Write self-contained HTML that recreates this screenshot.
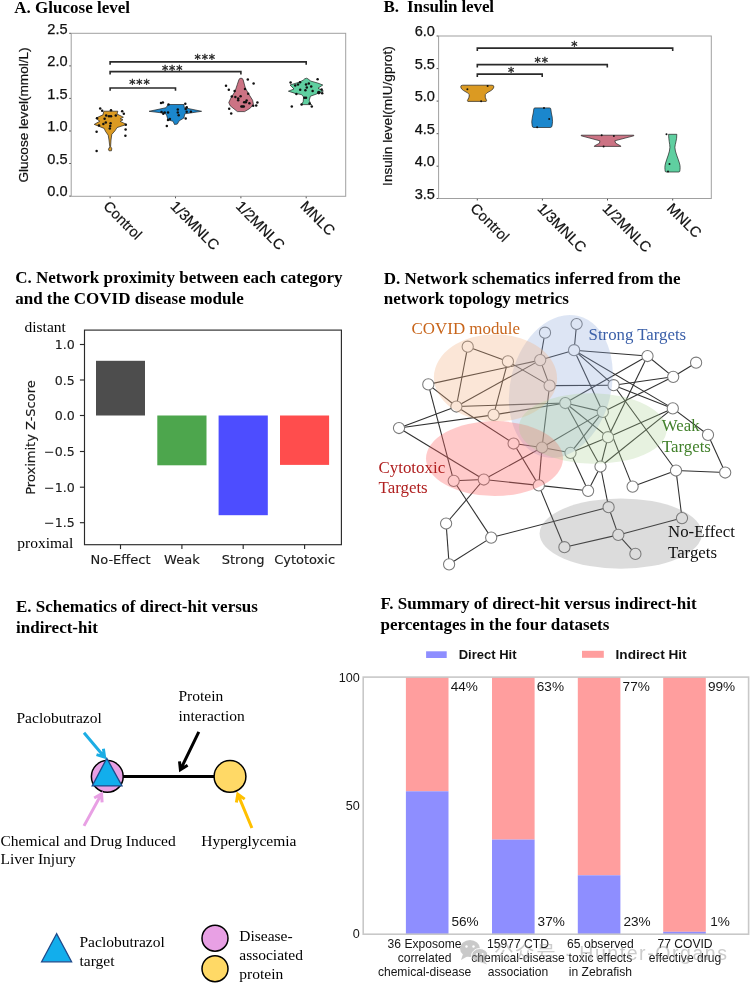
<!DOCTYPE html>
<html lang="en"><head><meta charset="utf-8"><title>Figure</title>
<style>
html,body{margin:0;padding:0;background:#fff;}
body{width:750px;height:983px;overflow:hidden;}
svg{display:block;filter:blur(0.4px);}
</style></head><body>
<svg width="750" height="983" viewBox="0 0 750 983">
<rect width="750" height="983" fill="#fff"/>
<text x="14.3" y="12.5" font-family='"Liberation Serif","DejaVu Serif",serif' font-size="17" font-weight="bold" text-anchor="start" fill="#000" >A. Glucose level</text>
<text x="383.4" y="12" font-family='"Liberation Serif","DejaVu Serif",serif' font-size="17" font-weight="bold" xml:space="preserve" textLength="110.7">B.  Insulin level</text>
<text x="15.2" y="283.4" font-family='"Liberation Serif","DejaVu Serif",serif' font-size="17" font-weight="bold" text-anchor="start" fill="#000" >C. Network proximity between each category</text>
<text x="15.2" y="304.2" font-family='"Liberation Serif","DejaVu Serif",serif' font-size="17" font-weight="bold" text-anchor="start" fill="#000" >and the COVID disease module</text>
<text x="383.8" y="283.6" font-family='"Liberation Serif","DejaVu Serif",serif' font-size="17" font-weight="bold" text-anchor="start" fill="#000" >D. Network schematics inferred from the</text>
<text x="383.8" y="304.4" font-family='"Liberation Serif","DejaVu Serif",serif' font-size="17" font-weight="bold" text-anchor="start" fill="#000" >network topology metrics</text>
<text x="16" y="612.2" font-family='"Liberation Serif","DejaVu Serif",serif' font-size="17" font-weight="bold" text-anchor="start" fill="#000" >E. Schematics of direct-hit versus</text>
<text x="16" y="633" font-family='"Liberation Serif","DejaVu Serif",serif' font-size="17" font-weight="bold" text-anchor="start" fill="#000" >indirect-hit</text>
<text x="380.5" y="609.2" font-family='"Liberation Serif","DejaVu Serif",serif' font-size="17" font-weight="bold" text-anchor="start" fill="#000" >F. Summary of direct-hit versus indirect-hit</text>
<text x="380.5" y="630" font-family='"Liberation Serif","DejaVu Serif",serif' font-size="17" font-weight="bold" text-anchor="start" fill="#000" >percentages in the four datasets</text>
<rect x="71.2" y="33.3" width="274.5" height="163.0" fill="none" stroke="#a0a0a0" stroke-width="1"/>
<line x1="70.9" y1="33.3" x2="69.2" y2="33.3" stroke="#555" stroke-width="1"/>
<text x="67.60000000000001" y="33.5" font-family='"Liberation Sans","DejaVu Sans",sans-serif' font-size="14.6" font-weight="normal" text-anchor="end" fill="#111" stroke="#111" stroke-width="0.25">2.5</text>
<line x1="70.9" y1="65.9" x2="69.2" y2="65.9" stroke="#555" stroke-width="1"/>
<text x="67.60000000000001" y="66.10000000000001" font-family='"Liberation Sans","DejaVu Sans",sans-serif' font-size="14.6" font-weight="normal" text-anchor="end" fill="#111" stroke="#111" stroke-width="0.25">2.0</text>
<line x1="70.9" y1="98.4" x2="69.2" y2="98.4" stroke="#555" stroke-width="1"/>
<text x="67.60000000000001" y="98.60000000000001" font-family='"Liberation Sans","DejaVu Sans",sans-serif' font-size="14.6" font-weight="normal" text-anchor="end" fill="#111" stroke="#111" stroke-width="0.25">1.5</text>
<line x1="70.9" y1="131" x2="69.2" y2="131" stroke="#555" stroke-width="1"/>
<text x="67.60000000000001" y="131.2" font-family='"Liberation Sans","DejaVu Sans",sans-serif' font-size="14.6" font-weight="normal" text-anchor="end" fill="#111" stroke="#111" stroke-width="0.25">1.0</text>
<line x1="70.9" y1="163.5" x2="69.2" y2="163.5" stroke="#555" stroke-width="1"/>
<text x="67.60000000000001" y="163.7" font-family='"Liberation Sans","DejaVu Sans",sans-serif' font-size="14.6" font-weight="normal" text-anchor="end" fill="#111" stroke="#111" stroke-width="0.25">0.5</text>
<line x1="70.9" y1="196.1" x2="69.2" y2="196.1" stroke="#555" stroke-width="1"/>
<text x="67.60000000000001" y="196.29999999999998" font-family='"Liberation Sans","DejaVu Sans",sans-serif' font-size="14.6" font-weight="normal" text-anchor="end" fill="#111" stroke="#111" stroke-width="0.25">0.0</text>
<line x1="110.1" y1="196.60000000000002" x2="110.1" y2="198.3" stroke="#555" stroke-width="1"/>
<text transform="translate(102.39999999999999,207.10000000000002) rotate(45)" font-family='"Liberation Sans","DejaVu Sans",sans-serif' font-size="14.7" font-weight="normal" text-anchor="start" fill="#111" stroke="#111" stroke-width="0.2">Control</text>
<line x1="175.5" y1="196.60000000000002" x2="175.5" y2="198.3" stroke="#555" stroke-width="1"/>
<text transform="translate(169.5,207.10000000000002) rotate(45)" font-family='"Liberation Sans","DejaVu Sans",sans-serif' font-size="14.7" font-weight="normal" text-anchor="start" fill="#111" stroke="#111" stroke-width="0.2">1/3MNLC</text>
<line x1="240.9" y1="196.60000000000002" x2="240.9" y2="198.3" stroke="#555" stroke-width="1"/>
<text transform="translate(234.9,207.10000000000002) rotate(45)" font-family='"Liberation Sans","DejaVu Sans",sans-serif' font-size="14.7" font-weight="normal" text-anchor="start" fill="#111" stroke="#111" stroke-width="0.2">1/2MNLC</text>
<line x1="306.2" y1="196.60000000000002" x2="306.2" y2="198.3" stroke="#555" stroke-width="1"/>
<text transform="translate(299.5,207.10000000000002) rotate(45)" font-family='"Liberation Sans","DejaVu Sans",sans-serif' font-size="14.7" font-weight="normal" text-anchor="start" fill="#111" stroke="#111" stroke-width="0.2">MNLC</text>
<text transform="translate(28,115) rotate(-90)" font-family='"Liberation Sans","DejaVu Sans",sans-serif' font-size="13.6" font-weight="normal" text-anchor="middle" fill="#111" stroke="#111" stroke-width="0.2">Glucose level(mmol/L)</text>
<path d="M110.1,64.7 V61.9 H306.2 V64.7" fill="none" stroke="#2a2a2a" stroke-width="1.6"/>
<text x="205.24999999999997" y="62.8" font-family='"DejaVu Sans","Liberation Sans",sans-serif' font-size="12.5" font-weight="normal" text-anchor="middle" fill="#222" stroke="#222" stroke-width="0.35" letter-spacing="0.85">***</text>
<path d="M110.1,74.39999999999999 V71.6 H240.9 V74.39999999999999" fill="none" stroke="#2a2a2a" stroke-width="1.6"/>
<text x="172.6" y="73.89999999999999" font-family='"DejaVu Sans","Liberation Sans",sans-serif' font-size="12.5" font-weight="normal" text-anchor="middle" fill="#222" stroke="#222" stroke-width="0.35" letter-spacing="0.85">***</text>
<path d="M110.1,90.8 V88 H175.5 V90.8" fill="none" stroke="#2a2a2a" stroke-width="1.6"/>
<text x="139.9" y="88.1" font-family='"DejaVu Sans","Liberation Sans",sans-serif' font-size="12.5" font-weight="normal" text-anchor="middle" fill="#222" stroke="#222" stroke-width="0.35" letter-spacing="0.85">***</text>
<path d="M103.8,111.2 L117.8,111.2 L117.0,114.0 L123.4,117.2 L120.2,118.8 L123.0,119.8 L120.2,121.4 L126.6,124.4 L117.0,127.6 L115.0,130.8 L111.8,134.4 L111.0,140.0 L110.6,146.4 L111.8,148.8 L111.4,150.8 L109.0,150.8 L108.4,149.2 L109.8,146.8 L109.0,140.0 L108.2,135.2 L105.4,131.2 L104.2,128.4 L94.2,124.4 L99.8,121.2 L97.5,119.6 L96.2,118.0 L103.0,114.8Z" fill="#DB9A22" stroke="#222" stroke-width="0.7" stroke-linejoin="round"/>
<circle cx="100.2" cy="108.4" r="1.25" fill="#111"/>
<circle cx="102.2" cy="110.8" r="1.25" fill="#111"/>
<circle cx="111.0" cy="110.2" r="1.25" fill="#111"/>
<circle cx="122.2" cy="111.2" r="1.25" fill="#111"/>
<circle cx="123.8" cy="113.8" r="1.25" fill="#111"/>
<circle cx="106.2" cy="115.6" r="1.25" fill="#111"/>
<circle cx="109.0" cy="116.2" r="1.25" fill="#111"/>
<circle cx="111.0" cy="116.2" r="1.25" fill="#111"/>
<circle cx="115.8" cy="115.6" r="1.25" fill="#111"/>
<circle cx="97.0" cy="118.2" r="1.25" fill="#111"/>
<circle cx="104.6" cy="118.8" r="1.25" fill="#111"/>
<circle cx="105.8" cy="122.4" r="1.25" fill="#111"/>
<circle cx="103.4" cy="124.0" r="1.25" fill="#111"/>
<circle cx="99.0" cy="125.4" r="1.25" fill="#111"/>
<circle cx="110.6" cy="123.2" r="1.25" fill="#111"/>
<circle cx="110.2" cy="126.0" r="1.25" fill="#111"/>
<circle cx="109.8" cy="128.4" r="1.25" fill="#111"/>
<circle cx="125.8" cy="124.8" r="1.25" fill="#111"/>
<circle cx="125.6" cy="129.6" r="1.25" fill="#111"/>
<circle cx="96.6" cy="131.8" r="1.25" fill="#111"/>
<circle cx="125.4" cy="135.8" r="1.25" fill="#111"/>
<circle cx="96.6" cy="151.0" r="1.25" fill="#111"/>
<path d="M168.0,104.5 L183.9,104.5 L184.3,107.7 L201.6,111.3 L184.8,113.8 L183.9,118.0 L179.2,120.8 L177.3,124.1 L174.5,124.5 L173.1,121.3 L168.0,119.9 L166.6,115.2 L165.2,113.3 L149.1,111.3 L166.1,107.7Z" fill="#1B87CD" stroke="#222" stroke-width="0.7" stroke-linejoin="round"/>
<circle cx="161.0" cy="103.0" r="1.25" fill="#111"/>
<circle cx="162.9" cy="102.6" r="1.25" fill="#111"/>
<circle cx="168.5" cy="104.5" r="1.25" fill="#111"/>
<circle cx="185.3" cy="103.8" r="1.25" fill="#111"/>
<circle cx="186.7" cy="107.3" r="1.25" fill="#111"/>
<circle cx="185.7" cy="109.1" r="1.25" fill="#111"/>
<circle cx="186.7" cy="111.7" r="1.25" fill="#111"/>
<circle cx="190.9" cy="111.7" r="1.25" fill="#111"/>
<circle cx="161.5" cy="111.9" r="1.25" fill="#111"/>
<circle cx="163.3" cy="113.8" r="1.25" fill="#111"/>
<circle cx="164.7" cy="112.4" r="1.25" fill="#111"/>
<circle cx="168.0" cy="112.4" r="1.25" fill="#111"/>
<circle cx="177.8" cy="109.6" r="1.25" fill="#111"/>
<circle cx="177.8" cy="112.4" r="1.25" fill="#111"/>
<circle cx="178.7" cy="115.2" r="1.25" fill="#111"/>
<circle cx="185.7" cy="118.5" r="1.25" fill="#111"/>
<circle cx="168.0" cy="120.0" r="1.25" fill="#111"/>
<circle cx="169.9" cy="119.1" r="1.25" fill="#111"/>
<circle cx="166.8" cy="126.1" r="1.25" fill="#111"/>
<path d="M241.0,78.2 L242.4,78.6 L243.2,80.0 L245.4,88.2 L248.6,93.8 L252.6,100.2 L253.4,104.2 L250.2,108.2 L244.6,111.6 L237.4,111.6 L230.2,105.8 L228.8,102.6 L230.6,98.6 L235.0,91.4 L237.4,84.2 L238.8,80.0 L239.6,78.6Z" fill="#CC7384" stroke="#222" stroke-width="0.7" stroke-linejoin="round"/>
<circle cx="247.8" cy="79.4" r="1.25" fill="#111"/>
<circle cx="253.6" cy="83.6" r="1.25" fill="#111"/>
<circle cx="226.0" cy="85.8" r="1.25" fill="#111"/>
<circle cx="228.8" cy="89.8" r="1.25" fill="#111"/>
<circle cx="234.6" cy="91.0" r="1.25" fill="#111"/>
<circle cx="245.0" cy="89.0" r="1.25" fill="#111"/>
<circle cx="248.2" cy="93.8" r="1.25" fill="#111"/>
<circle cx="231.8" cy="96.4" r="1.25" fill="#111"/>
<circle cx="235.4" cy="97.0" r="1.25" fill="#111"/>
<circle cx="238.2" cy="98.6" r="1.25" fill="#111"/>
<circle cx="238.2" cy="100.2" r="1.25" fill="#111"/>
<circle cx="240.6" cy="96.2" r="1.25" fill="#111"/>
<circle cx="246.6" cy="100.6" r="1.25" fill="#111"/>
<circle cx="244.2" cy="102.2" r="1.25" fill="#111"/>
<circle cx="245.8" cy="102.2" r="1.25" fill="#111"/>
<circle cx="249.4" cy="103.2" r="1.25" fill="#111"/>
<circle cx="241.4" cy="106.4" r="1.25" fill="#111"/>
<circle cx="242.6" cy="106.4" r="1.25" fill="#111"/>
<circle cx="243.8" cy="106.4" r="1.25" fill="#111"/>
<circle cx="257.4" cy="102.4" r="1.25" fill="#111"/>
<circle cx="256.2" cy="105.6" r="1.25" fill="#111"/>
<circle cx="253.2" cy="105.8" r="1.25" fill="#111"/>
<circle cx="229.2" cy="108.8" r="1.25" fill="#111"/>
<circle cx="231.2" cy="113.6" r="1.25" fill="#111"/>
<path d="M306.4,78.2 L308.4,79.0 L310.4,81.0 L317.6,83.0 L322.8,85.0 L318.0,88.2 L323.4,91.0 L316.0,94.2 L310.4,96.2 L309.2,100.2 L310.4,103.4 L311.6,104.6 L301.2,104.6 L303.2,101.8 L303.6,97.0 L301.6,94.6 L295.2,93.4 L288.4,91.2 L294.0,89.0 L290.0,85.0 L299.2,82.2 L303.2,80.2 L304.4,79.0Z" fill="#5FCFA0" stroke="#222" stroke-width="0.7" stroke-linejoin="round"/>
<circle cx="317.6" cy="79.2" r="1.25" fill="#111"/>
<circle cx="290.6" cy="82.4" r="1.25" fill="#111"/>
<circle cx="300.0" cy="82.2" r="1.25" fill="#111"/>
<circle cx="298.0" cy="84.6" r="1.25" fill="#111"/>
<circle cx="295.2" cy="85.6" r="1.25" fill="#111"/>
<circle cx="306.0" cy="84.6" r="1.25" fill="#111"/>
<circle cx="308.8" cy="83.6" r="1.25" fill="#111"/>
<circle cx="311.2" cy="86.6" r="1.25" fill="#111"/>
<circle cx="306.8" cy="87.4" r="1.25" fill="#111"/>
<circle cx="300.2" cy="89.8" r="1.25" fill="#111"/>
<circle cx="305.4" cy="90.2" r="1.25" fill="#111"/>
<circle cx="312.6" cy="91.0" r="1.25" fill="#111"/>
<circle cx="321.6" cy="89.4" r="1.25" fill="#111"/>
<circle cx="322.2" cy="93.2" r="1.25" fill="#111"/>
<circle cx="296.4" cy="94.0" r="1.25" fill="#111"/>
<circle cx="304.4" cy="97.8" r="1.25" fill="#111"/>
<circle cx="306.0" cy="97.8" r="1.25" fill="#111"/>
<circle cx="301.6" cy="104.6" r="1.25" fill="#111"/>
<circle cx="309.6" cy="103.4" r="1.25" fill="#111"/>
<circle cx="311.8" cy="106.4" r="1.25" fill="#111"/>
<circle cx="291.8" cy="106.4" r="1.25" fill="#111"/>
<circle cx="318.8" cy="92.6" r="1.8" fill="#111"/>
<rect x="438.6" y="36" width="272.69999999999993" height="162.5" fill="none" stroke="#a0a0a0" stroke-width="1"/>
<line x1="438.3" y1="36" x2="436.6" y2="36" stroke="#555" stroke-width="1"/>
<text x="435.0" y="36.2" font-family='"Liberation Sans","DejaVu Sans",sans-serif' font-size="14.6" font-weight="normal" text-anchor="end" fill="#111" stroke="#111" stroke-width="0.25">6.0</text>
<line x1="438.3" y1="68.6" x2="436.6" y2="68.6" stroke="#555" stroke-width="1"/>
<text x="435.0" y="68.8" font-family='"Liberation Sans","DejaVu Sans",sans-serif' font-size="14.6" font-weight="normal" text-anchor="end" fill="#111" stroke="#111" stroke-width="0.25">5.5</text>
<line x1="438.3" y1="101.1" x2="436.6" y2="101.1" stroke="#555" stroke-width="1"/>
<text x="435.0" y="101.3" font-family='"Liberation Sans","DejaVu Sans",sans-serif' font-size="14.6" font-weight="normal" text-anchor="end" fill="#111" stroke="#111" stroke-width="0.25">5.0</text>
<line x1="438.3" y1="133.7" x2="436.6" y2="133.7" stroke="#555" stroke-width="1"/>
<text x="435.0" y="133.89999999999998" font-family='"Liberation Sans","DejaVu Sans",sans-serif' font-size="14.6" font-weight="normal" text-anchor="end" fill="#111" stroke="#111" stroke-width="0.25">4.5</text>
<line x1="438.3" y1="166.2" x2="436.6" y2="166.2" stroke="#555" stroke-width="1"/>
<text x="435.0" y="166.39999999999998" font-family='"Liberation Sans","DejaVu Sans",sans-serif' font-size="14.6" font-weight="normal" text-anchor="end" fill="#111" stroke="#111" stroke-width="0.25">4.0</text>
<line x1="438.3" y1="198.5" x2="436.6" y2="198.5" stroke="#555" stroke-width="1"/>
<text x="435.0" y="198.7" font-family='"Liberation Sans","DejaVu Sans",sans-serif' font-size="14.6" font-weight="normal" text-anchor="end" fill="#111" stroke="#111" stroke-width="0.25">3.5</text>
<line x1="477.3" y1="198.8" x2="477.3" y2="200.5" stroke="#555" stroke-width="1"/>
<text transform="translate(469.6,209.3) rotate(45)" font-family='"Liberation Sans","DejaVu Sans",sans-serif' font-size="14.7" font-weight="normal" text-anchor="start" fill="#111" stroke="#111" stroke-width="0.2">Control</text>
<line x1="542.4" y1="198.8" x2="542.4" y2="200.5" stroke="#555" stroke-width="1"/>
<text transform="translate(536.4,209.3) rotate(45)" font-family='"Liberation Sans","DejaVu Sans",sans-serif' font-size="14.7" font-weight="normal" text-anchor="start" fill="#111" stroke="#111" stroke-width="0.2">1/3MNLC</text>
<line x1="607.5" y1="198.8" x2="607.5" y2="200.5" stroke="#555" stroke-width="1"/>
<text transform="translate(601.5,209.3) rotate(45)" font-family='"Liberation Sans","DejaVu Sans",sans-serif' font-size="14.7" font-weight="normal" text-anchor="start" fill="#111" stroke="#111" stroke-width="0.2">1/2MNLC</text>
<line x1="672.7" y1="198.8" x2="672.7" y2="200.5" stroke="#555" stroke-width="1"/>
<text transform="translate(666.0,209.3) rotate(45)" font-family='"Liberation Sans","DejaVu Sans",sans-serif' font-size="14.7" font-weight="normal" text-anchor="start" fill="#111" stroke="#111" stroke-width="0.2">MNLC</text>
<text transform="translate(391.5,116) rotate(-90)" font-family='"Liberation Sans","DejaVu Sans",sans-serif' font-size="13.6" font-weight="normal" text-anchor="middle" fill="#111" stroke="#111" stroke-width="0.2">Insulin level(mIU/gprot)</text>
<path d="M477.3,50.9 V48.1 H672.7 V50.9" fill="none" stroke="#2a2a2a" stroke-width="1.6"/>
<text x="574.8" y="50.1" font-family='"DejaVu Sans","Liberation Sans",sans-serif' font-size="12.5" font-weight="normal" text-anchor="middle" fill="#222" stroke="#222" stroke-width="0.35" letter-spacing="0.85">*</text>
<path d="M477.3,67.39999999999999 V64.6 H607.3 V67.39999999999999" fill="none" stroke="#2a2a2a" stroke-width="1.6"/>
<text x="541.7" y="66.0" font-family='"DejaVu Sans","Liberation Sans",sans-serif' font-size="12.5" font-weight="normal" text-anchor="middle" fill="#222" stroke="#222" stroke-width="0.35" letter-spacing="0.85">**</text>
<path d="M477.3,76.89999999999999 V74.1 H542.2 V76.89999999999999" fill="none" stroke="#2a2a2a" stroke-width="1.6"/>
<text x="511.5" y="76.1" font-family='"DejaVu Sans","Liberation Sans",sans-serif' font-size="12.5" font-weight="normal" text-anchor="middle" fill="#222" stroke="#222" stroke-width="0.35" letter-spacing="0.85">*</text>
<path d="M462.6,85.2 H492 Q494,85.2 493.9,87 Q493.6,89 491,90.6 Q486,93 485.3,94.6 Q484.6,97 486.6,100.6 L486.2,101.4 H467.8 L467.4,100.6 Q469.6,97 469.3,94.6 Q468.4,93 463.6,90.6 Q461,89 460.7,87 Q460.6,85.2 462.6,85.2Z" fill="#DB9A22" stroke="#222" stroke-width="0.7"/>
<circle cx="467.4" cy="89.2" r="1.0" fill="#111"/>
<circle cx="487.6" cy="85.9" r="1.0" fill="#111"/>
<circle cx="481.1" cy="101.2" r="1.0" fill="#111"/>
<path d="M535,107.9 H549.6 Q550.7,107.9 550.8,109 Q551.2,113 552.2,117 Q553,121.5 552,126 Q551.6,127.5 550.2,127.5 H534 Q532.4,127.5 532.2,126 Q531.2,121.5 532.4,117 Q533.4,113 533.8,109 Q533.9,107.9 535,107.9Z" fill="#1B87CD" stroke="#222" stroke-width="0.7"/>
<circle cx="544.0" cy="107.9" r="1.0" fill="#111"/>
<circle cx="549.2" cy="118.9" r="1.0" fill="#111"/>
<circle cx="537.1" cy="127.3" r="1.0" fill="#111"/>
<path d="M581.2,135.2 L633.8,135.2 L633.8,135.8 L614.8,140.8 L615.7,143.2 L620.8,146.0 L620.8,146.4 L594.3,146.4 L594.3,146.0 L599.5,143.2 L599.9,140.8 L581.2,135.8Z" fill="#CC7384" stroke="#222" stroke-width="0.7" stroke-linejoin="round"/>
<circle cx="601.7" cy="135.2" r="1.0" fill="#111"/>
<circle cx="613.9" cy="136.1" r="1.0" fill="#111"/>
<circle cx="603.6" cy="146.6" r="1.0" fill="#111"/>
<path d="M668.6,134.3 H676.8 C677,140 675,144 674.9,147.3 C674.9,152 678,158 679.4,163 C680.4,166 680.2,169 679.8,171.2 L679.2,172 H665.8 L665.2,171.2 C664.8,169 664.6,166 665.6,163 C667,158 669.9,152 669.9,147.3 C669.9,144 668.6,140 668.6,134.3Z" fill="#5FCFA0" stroke="#222" stroke-width="0.7"/>
<circle cx="666.5" cy="134.3" r="1.0" fill="#111"/>
<circle cx="669.5" cy="164.1" r="1.0" fill="#111"/>
<circle cx="668.0" cy="171.6" r="1.0" fill="#111"/>
<rect x="96" y="360.8" width="49" height="54.7" fill="#4d4d4d"/>
<rect x="157.3" y="415.5" width="49.2" height="49.8" fill="#4da64d"/>
<rect x="218.6" y="415.5" width="49.2" height="99.7" fill="#4d4dff"/>
<rect x="280" y="415.5" width="49.1" height="49.4" fill="#ff4d4d"/>
<rect x="84.5" y="330.1" width="256.9" height="214.60000000000002" fill="none" stroke="#2a2a2a" stroke-width="1.15"/>
<line x1="79.9" y1="344.5" x2="84.5" y2="344.5" stroke="#2a2a2a" stroke-width="1.15"/>
<text x="74.7" y="349.1" font-family='"DejaVu Sans","Liberation Sans",sans-serif' font-size="12.6" font-weight="normal" text-anchor="end" fill="#1a1a1a" stroke="#1a1a1a" stroke-width="0.15">1.0</text>
<line x1="79.9" y1="380" x2="84.5" y2="380" stroke="#2a2a2a" stroke-width="1.15"/>
<text x="74.7" y="384.6" font-family='"DejaVu Sans","Liberation Sans",sans-serif' font-size="12.6" font-weight="normal" text-anchor="end" fill="#1a1a1a" stroke="#1a1a1a" stroke-width="0.15">0.5</text>
<line x1="79.9" y1="415.5" x2="84.5" y2="415.5" stroke="#2a2a2a" stroke-width="1.15"/>
<text x="74.7" y="420.1" font-family='"DejaVu Sans","Liberation Sans",sans-serif' font-size="12.6" font-weight="normal" text-anchor="end" fill="#1a1a1a" stroke="#1a1a1a" stroke-width="0.15">0.0</text>
<line x1="79.9" y1="451.5" x2="84.5" y2="451.5" stroke="#2a2a2a" stroke-width="1.15"/>
<text x="74.7" y="456.1" font-family='"DejaVu Sans","Liberation Sans",sans-serif' font-size="12.6" font-weight="normal" text-anchor="end" fill="#1a1a1a" stroke="#1a1a1a" stroke-width="0.15">−0.5</text>
<line x1="79.9" y1="487.2" x2="84.5" y2="487.2" stroke="#2a2a2a" stroke-width="1.15"/>
<text x="74.7" y="491.8" font-family='"DejaVu Sans","Liberation Sans",sans-serif' font-size="12.6" font-weight="normal" text-anchor="end" fill="#1a1a1a" stroke="#1a1a1a" stroke-width="0.15">−1.0</text>
<line x1="79.9" y1="522.7" x2="84.5" y2="522.7" stroke="#2a2a2a" stroke-width="1.15"/>
<text x="74.7" y="527.3000000000001" font-family='"DejaVu Sans","Liberation Sans",sans-serif' font-size="12.6" font-weight="normal" text-anchor="end" fill="#1a1a1a" stroke="#1a1a1a" stroke-width="0.15">−1.5</text>
<line x1="120.5" y1="544.7" x2="120.5" y2="549.1" stroke="#2a2a2a" stroke-width="1.15"/>
<text x="120.5" y="564" font-family='"DejaVu Sans","Liberation Sans",sans-serif' font-size="13" font-weight="normal" text-anchor="middle" fill="#1a1a1a" stroke="#1a1a1a" stroke-width="0.15">No-Effect</text>
<line x1="181.9" y1="544.7" x2="181.9" y2="549.1" stroke="#2a2a2a" stroke-width="1.15"/>
<text x="181.9" y="564" font-family='"DejaVu Sans","Liberation Sans",sans-serif' font-size="13" font-weight="normal" text-anchor="middle" fill="#1a1a1a" stroke="#1a1a1a" stroke-width="0.15">Weak</text>
<line x1="243.2" y1="544.7" x2="243.2" y2="549.1" stroke="#2a2a2a" stroke-width="1.15"/>
<text x="243.2" y="564" font-family='"DejaVu Sans","Liberation Sans",sans-serif' font-size="13" font-weight="normal" text-anchor="middle" fill="#1a1a1a" stroke="#1a1a1a" stroke-width="0.15">Strong</text>
<line x1="304.6" y1="544.7" x2="304.6" y2="549.1" stroke="#2a2a2a" stroke-width="1.15"/>
<text x="304.6" y="564" font-family='"DejaVu Sans","Liberation Sans",sans-serif' font-size="13" font-weight="normal" text-anchor="middle" fill="#1a1a1a" stroke="#1a1a1a" stroke-width="0.15">Cytotoxic</text>
<text transform="translate(35.2,437.5) rotate(-90)" font-family='"DejaVu Sans","Liberation Sans",sans-serif' font-size="13" font-weight="normal" text-anchor="middle" fill="#1a1a1a" stroke="#1a1a1a" stroke-width="0.15">Proximity Z-Score</text>
<text x="24.5" y="331.5" font-family='"Liberation Serif","DejaVu Serif",serif' font-size="15.5" font-weight="normal" text-anchor="start" fill="#000" >distant</text>
<text x="17.3" y="548" font-family='"Liberation Serif","DejaVu Serif",serif' font-size="15.5" font-weight="normal" text-anchor="start" fill="#000" >proximal</text>
<g stroke="#303030" stroke-width="1.08" fill="none">
<line x1="467.7" y1="346.7" x2="507.9" y2="361.4"/>
<line x1="467.7" y1="346.7" x2="456.4" y2="406.5"/>
<line x1="507.9" y1="361.4" x2="549.6" y2="385.6"/>
<line x1="507.9" y1="361.4" x2="493.6" y2="414.9"/>
<line x1="545.0" y1="332.7" x2="540.2" y2="360.1"/>
<line x1="540.2" y1="360.1" x2="549.6" y2="385.6"/>
<line x1="540.2" y1="360.1" x2="574.1" y2="350.2"/>
<line x1="540.2" y1="360.1" x2="428.3" y2="384.4"/>
<line x1="540.2" y1="360.1" x2="456.4" y2="406.5"/>
<line x1="549.6" y1="385.6" x2="542.0" y2="447.5"/>
<line x1="549.6" y1="385.6" x2="613.6" y2="385.2"/>
<line x1="428.3" y1="384.4" x2="456.4" y2="406.5"/>
<line x1="428.3" y1="384.4" x2="453.7" y2="480.8"/>
<line x1="456.4" y1="406.5" x2="565.3" y2="403.0"/>
<line x1="456.4" y1="406.5" x2="513.6" y2="443.5"/>
<line x1="456.4" y1="406.5" x2="399.0" y2="428.0"/>
<line x1="493.6" y1="414.9" x2="399.0" y2="428.0"/>
<line x1="493.6" y1="414.9" x2="565.3" y2="403.0"/>
<line x1="399.0" y1="428.0" x2="483.8" y2="479.5"/>
<line x1="565.3" y1="403.0" x2="647.5" y2="356.0"/>
<line x1="565.3" y1="403.0" x2="602.8" y2="411.9"/>
<line x1="565.3" y1="403.0" x2="608.0" y2="437.2"/>
<line x1="565.3" y1="403.0" x2="600.5" y2="466.5"/>
<line x1="542.0" y1="447.5" x2="602.8" y2="411.9"/>
<line x1="513.6" y1="443.5" x2="542.0" y2="447.5"/>
<line x1="513.6" y1="443.5" x2="538.8" y2="485.4"/>
<line x1="542.0" y1="447.5" x2="570.5" y2="452.8"/>
<line x1="542.0" y1="447.5" x2="483.8" y2="479.5"/>
<line x1="542.0" y1="447.5" x2="538.8" y2="485.4"/>
<line x1="574.1" y1="350.2" x2="576.6" y2="324.0"/>
<line x1="574.1" y1="350.2" x2="647.5" y2="356.0"/>
<line x1="574.1" y1="350.2" x2="613.6" y2="385.2"/>
<line x1="574.1" y1="350.2" x2="602.8" y2="411.9"/>
<line x1="574.1" y1="350.2" x2="672.8" y2="408.4"/>
<line x1="647.5" y1="356.0" x2="673.2" y2="376.8"/>
<line x1="647.5" y1="356.0" x2="608.0" y2="437.2"/>
<line x1="696.1" y1="362.7" x2="673.2" y2="376.8"/>
<line x1="673.2" y1="376.8" x2="613.6" y2="385.2"/>
<line x1="673.2" y1="376.8" x2="602.8" y2="411.9"/>
<line x1="613.6" y1="385.2" x2="672.8" y2="408.4"/>
<line x1="613.6" y1="385.2" x2="676.0" y2="470.5"/>
<line x1="602.8" y1="411.9" x2="570.5" y2="452.8"/>
<line x1="602.8" y1="411.9" x2="632.6" y2="486.6"/>
<line x1="672.8" y1="408.4" x2="608.0" y2="437.2"/>
<line x1="672.8" y1="408.4" x2="600.5" y2="466.5"/>
<line x1="672.8" y1="408.4" x2="708.0" y2="434.8"/>
<line x1="608.0" y1="437.2" x2="570.5" y2="452.8"/>
<line x1="608.0" y1="437.2" x2="600.5" y2="466.5"/>
<line x1="708.0" y1="434.8" x2="725.2" y2="472.5"/>
<line x1="453.7" y1="480.8" x2="483.8" y2="479.5"/>
<line x1="453.7" y1="480.8" x2="491.2" y2="537.6"/>
<line x1="483.8" y1="479.5" x2="538.8" y2="485.4"/>
<line x1="483.8" y1="479.5" x2="446.1" y2="523.5"/>
<line x1="570.5" y1="452.8" x2="588.1" y2="490.8"/>
<line x1="538.8" y1="485.4" x2="588.1" y2="490.8"/>
<line x1="538.8" y1="485.4" x2="564.4" y2="547.2"/>
<line x1="588.1" y1="490.8" x2="600.5" y2="466.5"/>
<line x1="600.5" y1="466.5" x2="608.6" y2="507.2"/>
<line x1="632.6" y1="486.6" x2="676.0" y2="470.5"/>
<line x1="676.0" y1="470.5" x2="725.2" y2="472.5"/>
<line x1="676.0" y1="470.5" x2="682.0" y2="518.1"/>
<line x1="446.1" y1="523.5" x2="449.1" y2="564.3"/>
<line x1="491.2" y1="537.6" x2="449.1" y2="564.3"/>
<line x1="491.2" y1="537.6" x2="608.6" y2="507.2"/>
<line x1="608.6" y1="507.2" x2="618.3" y2="534.9"/>
<line x1="618.3" y1="534.9" x2="564.4" y2="547.2"/>
<line x1="618.3" y1="534.9" x2="635.4" y2="553.9"/>
<line x1="618.3" y1="534.9" x2="682.0" y2="518.1"/>
</g>
<g stroke="#7a7a7a" stroke-width="1.05" fill="#fff">
<circle cx="467.7" cy="346.7" r="5.6"/>
<circle cx="507.9" cy="361.4" r="5.6"/>
<circle cx="545.0" cy="332.7" r="5.6"/>
<circle cx="540.2" cy="360.1" r="5.6"/>
<circle cx="549.6" cy="385.6" r="5.6"/>
<circle cx="428.3" cy="384.4" r="5.6"/>
<circle cx="456.4" cy="406.5" r="5.6"/>
<circle cx="493.6" cy="414.9" r="5.6"/>
<circle cx="399.0" cy="428.0" r="5.6"/>
<circle cx="565.3" cy="403.0" r="5.6"/>
<circle cx="513.6" cy="443.5" r="5.6"/>
<circle cx="542.0" cy="447.5" r="5.6"/>
<circle cx="574.1" cy="350.2" r="5.6"/>
<circle cx="576.6" cy="324.0" r="5.6"/>
<circle cx="647.5" cy="356.0" r="5.6"/>
<circle cx="696.1" cy="362.7" r="5.6"/>
<circle cx="673.2" cy="376.8" r="5.6"/>
<circle cx="613.6" cy="385.2" r="5.6"/>
<circle cx="602.8" cy="411.9" r="5.6"/>
<circle cx="672.8" cy="408.4" r="5.6"/>
<circle cx="608.0" cy="437.2" r="5.6"/>
<circle cx="708.0" cy="434.8" r="5.6"/>
<circle cx="453.7" cy="480.8" r="5.6"/>
<circle cx="483.8" cy="479.5" r="5.6"/>
<circle cx="570.5" cy="452.8" r="5.6"/>
<circle cx="538.8" cy="485.4" r="5.6"/>
<circle cx="588.1" cy="490.8" r="5.6"/>
<circle cx="600.5" cy="466.5" r="5.6"/>
<circle cx="632.6" cy="486.6" r="5.6"/>
<circle cx="676.0" cy="470.5" r="5.6"/>
<circle cx="725.2" cy="472.5" r="5.6"/>
<circle cx="446.1" cy="523.5" r="5.6"/>
<circle cx="491.2" cy="537.6" r="5.6"/>
<circle cx="449.1" cy="564.3" r="5.6"/>
<circle cx="608.6" cy="507.2" r="5.6"/>
<circle cx="618.3" cy="534.9" r="5.6"/>
<circle cx="564.4" cy="547.2" r="5.6"/>
<circle cx="635.4" cy="553.9" r="5.6"/>
<circle cx="682.0" cy="518.1" r="5.6"/>
</g>
<ellipse cx="560.8" cy="386.4" rx="50.4" ry="72.6" transform="rotate(14 560.8 386.4)" fill="#8FAADC" fill-opacity="0.3"/>
<ellipse cx="495.5" cy="377.9" rx="61.6" ry="43.6" transform="rotate(1 495.5 377.9)" fill="#F4B183" fill-opacity="0.32"/>
<ellipse cx="494.5" cy="458.6" rx="68.5" ry="37.5" transform="rotate(0 494.5 458.6)" fill="#FF6666" fill-opacity="0.35"/>
<ellipse cx="592.8" cy="428.5" rx="73.9" ry="35.2" transform="rotate(1.2 592.8 428.5)" fill="#A9D18E" fill-opacity="0.28"/>
<ellipse cx="620.8" cy="533.6" rx="81.2" ry="35.2" transform="rotate(0 620.8 533.6)" fill="#7F7F7F" fill-opacity="0.27"/>
<text x="411.6" y="333.6" font-family='"Liberation Serif","DejaVu Serif",serif' font-size="16.9" font-weight="normal" text-anchor="start" fill="#C8651B" >COVID module</text>
<text x="588.6" y="339.6" font-family='"Liberation Serif","DejaVu Serif",serif' font-size="16.8" font-weight="normal" text-anchor="start" fill="#3A5FA8" >Strong Targets</text>
<text x="661.8" y="431.1" font-family='"Liberation Serif","DejaVu Serif",serif' font-size="16.8" font-weight="normal" text-anchor="start" fill="#41802A" >Weak</text>
<text x="662" y="451.7" font-family='"Liberation Serif","DejaVu Serif",serif' font-size="16.8" font-weight="normal" text-anchor="start" fill="#41802A" >Targets</text>
<text x="378.5" y="472.5" font-family='"Liberation Serif","DejaVu Serif",serif' font-size="16.9" font-weight="normal" text-anchor="start" fill="#B02020" >Cytotoxic</text>
<text x="378.5" y="492.8" font-family='"Liberation Serif","DejaVu Serif",serif' font-size="16.9" font-weight="normal" text-anchor="start" fill="#B02020" >Targets</text>
<text x="668.1" y="537.3" font-family='"Liberation Serif","DejaVu Serif",serif' font-size="16.8" font-weight="normal" text-anchor="start" fill="#111" >No-Effect</text>
<text x="668.1" y="557.6" font-family='"Liberation Serif","DejaVu Serif",serif' font-size="16.8" font-weight="normal" text-anchor="start" fill="#111" >Targets</text>
<line x1="122" y1="776.4" x2="215" y2="776.4" stroke="#000" stroke-width="3"/>
<circle cx="107.3" cy="776.4" r="15.9" fill="#E8A0E4" stroke="#000" stroke-width="1.5"/>
<path d="M106.8,758.3 L92.2,785.9 L122,785.9 Z" fill="#12AEEC" stroke="#1F4A8A" stroke-width="1.3" stroke-linejoin="miter"/>
<circle cx="230" cy="776.4" r="15.9" fill="#FFD966" stroke="#000" stroke-width="1.5"/>
<path d="M84.0,732.8 L104.6,757.2 M96.5,754.6 L104.6,757.2 L103.4,748.8" fill="none" stroke="#1CADE4" stroke-width="3" stroke-linejoin="miter" stroke-linecap="butt"/>
<path d="M84.0,825.9 L101.6,793.8 M102.1,802.3 L101.6,793.8 L94.2,798.0" fill="none" stroke="#E8A0E4" stroke-width="3" stroke-linejoin="miter" stroke-linecap="butt"/>
<path d="M198.8,731.8 L180.4,769.8 M179.5,761.3 L180.4,769.8 L187.6,765.3" fill="none" stroke="#000" stroke-width="3" stroke-linejoin="miter" stroke-linecap="butt"/>
<path d="M251.9,828.0 L237.8,794.2 M244.7,799.1 L237.8,794.2 L236.4,802.6" fill="none" stroke="#FFC000" stroke-width="3" stroke-linejoin="miter" stroke-linecap="butt"/>
<text x="16.5" y="722.8" font-family='"Liberation Serif","DejaVu Serif",serif' font-size="15.5" font-weight="normal" text-anchor="start" fill="#000" >Paclobutrazol</text>
<text x="178.5" y="701.3" font-family='"Liberation Serif","DejaVu Serif",serif' font-size="15.5" font-weight="normal" text-anchor="start" fill="#000" >Protein</text>
<text x="178.5" y="720.8" font-family='"Liberation Serif","DejaVu Serif",serif' font-size="15.5" font-weight="normal" text-anchor="start" fill="#000" >interaction</text>
<text x="0.5" y="845.7" font-family='"Liberation Serif","DejaVu Serif",serif' font-size="15.5" font-weight="normal" text-anchor="start" fill="#000" >Chemical and Drug Induced</text>
<text x="0.5" y="864.4" font-family='"Liberation Serif","DejaVu Serif",serif' font-size="15.5" font-weight="normal" text-anchor="start" fill="#000" >Liver Injury</text>
<text x="201.2" y="846.2" font-family='"Liberation Serif","DejaVu Serif",serif' font-size="15.5" font-weight="normal" text-anchor="start" fill="#000" >Hyperglycemia</text>
<path d="M56.6,933.7 L41.6,961.8 L71.6,961.8 Z" fill="#12AEEC" stroke="#1F4A8A" stroke-width="1.3"/>
<text x="79.5" y="947.2" font-family='"Liberation Serif","DejaVu Serif",serif' font-size="15.5" font-weight="normal" text-anchor="start" fill="#000" >Paclobutrazol</text>
<text x="79.5" y="965.9" font-family='"Liberation Serif","DejaVu Serif",serif' font-size="15.5" font-weight="normal" text-anchor="start" fill="#000" >target</text>
<circle cx="215" cy="938.2" r="13" fill="#E8A0E4" stroke="#000" stroke-width="1.5"/>
<circle cx="215" cy="968.7" r="13" fill="#FFD966" stroke="#000" stroke-width="1.5"/>
<text x="239.3" y="941.4" font-family='"Liberation Serif","DejaVu Serif",serif' font-size="15.5" font-weight="normal" text-anchor="start" fill="#000" >Disease-</text>
<text x="239.3" y="960" font-family='"Liberation Serif","DejaVu Serif",serif' font-size="15.5" font-weight="normal" text-anchor="start" fill="#000" >associated</text>
<text x="239.3" y="978.7" font-family='"Liberation Serif","DejaVu Serif",serif' font-size="15.5" font-weight="normal" text-anchor="start" fill="#000" >protein</text>
<rect x="405.9" y="677.1" width="42.6" height="114.2" fill="#FF9E9E"/>
<rect x="405.9" y="791.3" width="42.6" height="142.9" fill="#8E8EFF"/>
<text x="450.7" y="691" font-family='"Liberation Sans","DejaVu Sans",sans-serif' font-size="13.6" font-weight="normal" text-anchor="start" fill="#161616" >44%</text>
<text x="451.5" y="926" font-family='"Liberation Sans","DejaVu Sans",sans-serif' font-size="13.6" font-weight="normal" text-anchor="start" fill="#161616" >56%</text>
<rect x="492.0" y="677.1" width="42.6" height="162.5" fill="#FF9E9E"/>
<rect x="492.0" y="839.6" width="42.6" height="94.6" fill="#8E8EFF"/>
<text x="536.8" y="691" font-family='"Liberation Sans","DejaVu Sans",sans-serif' font-size="13.6" font-weight="normal" text-anchor="start" fill="#161616" >63%</text>
<text x="537.6" y="926" font-family='"Liberation Sans","DejaVu Sans",sans-serif' font-size="13.6" font-weight="normal" text-anchor="start" fill="#161616" >37%</text>
<rect x="577.8" y="677.1" width="42.6" height="198.2" fill="#FF9E9E"/>
<rect x="577.8" y="875.3" width="42.6" height="58.9" fill="#8E8EFF"/>
<text x="622.5999999999999" y="691" font-family='"Liberation Sans","DejaVu Sans",sans-serif' font-size="13.6" font-weight="normal" text-anchor="start" fill="#161616" >77%</text>
<text x="623.4" y="926" font-family='"Liberation Sans","DejaVu Sans",sans-serif' font-size="13.6" font-weight="normal" text-anchor="start" fill="#161616" >23%</text>
<rect x="663.2" y="677.1" width="42.6" height="254.7" fill="#FF9E9E"/>
<rect x="663.2" y="931.8" width="42.6" height="2.4" fill="#8E8EFF"/>
<text x="708.0" y="691" font-family='"Liberation Sans","DejaVu Sans",sans-serif' font-size="13.6" font-weight="normal" text-anchor="start" fill="#161616" >99%</text>
<text x="710.2" y="926" font-family='"Liberation Sans","DejaVu Sans",sans-serif' font-size="13.6" font-weight="normal" text-anchor="start" fill="#161616" >1%</text>
<rect x="363.2" y="677.1" width="385.40000000000003" height="257.1" fill="none" stroke="#c8c8c8" stroke-width="1.6"/>
<text x="359.7" y="681.8" font-family='"Liberation Sans","DejaVu Sans",sans-serif' font-size="12.6" font-weight="normal" text-anchor="end" fill="#161616" >100</text>
<text x="359.7" y="810.1" font-family='"Liberation Sans","DejaVu Sans",sans-serif' font-size="12.6" font-weight="normal" text-anchor="end" fill="#161616" >50</text>
<text x="359.7" y="938.4" font-family='"Liberation Sans","DejaVu Sans",sans-serif' font-size="12.6" font-weight="normal" text-anchor="end" fill="#161616" >0</text>
<rect x="426.1" y="651.3" width="20.6" height="6.7" fill="#8E8EFF"/>
<text x="458.7" y="658.8" font-family='"Liberation Sans","DejaVu Sans",sans-serif' font-size="13" font-weight="bold" text-anchor="start" fill="#111" >Direct Hit</text>
<rect x="582" y="650.8" width="21.8" height="7" fill="#FF9E9E"/>
<text x="615.6" y="658.6" font-family='"Liberation Sans","DejaVu Sans",sans-serif' font-size="13.6" font-weight="bold" text-anchor="start" fill="#111" >Indirect Hit</text>
<text x="424.6" y="948.4" font-family='"Liberation Sans","DejaVu Sans",sans-serif' font-size="12.1" font-weight="normal" text-anchor="middle" fill="#161616" >36 Exposome</text>
<text x="424.6" y="962.15" font-family='"Liberation Sans","DejaVu Sans",sans-serif' font-size="12.1" font-weight="normal" text-anchor="middle" fill="#161616" >correlated</text>
<text x="424.6" y="975.9" font-family='"Liberation Sans","DejaVu Sans",sans-serif' font-size="12.1" font-weight="normal" text-anchor="middle" fill="#161616" >chemical-disease</text>
<text x="518" y="948.4" font-family='"Liberation Sans","DejaVu Sans",sans-serif' font-size="12.1" font-weight="normal" text-anchor="middle" fill="#161616" >15977 CTD</text>
<text x="518" y="962.15" font-family='"Liberation Sans","DejaVu Sans",sans-serif' font-size="12.1" font-weight="normal" text-anchor="middle" fill="#161616" >chemical-disease</text>
<text x="518" y="975.9" font-family='"Liberation Sans","DejaVu Sans",sans-serif' font-size="12.1" font-weight="normal" text-anchor="middle" fill="#161616" >association</text>
<text x="600.4" y="948.4" font-family='"Liberation Sans","DejaVu Sans",sans-serif' font-size="12.1" font-weight="normal" text-anchor="middle" fill="#161616" >65 observed</text>
<text x="600.4" y="962.15" font-family='"Liberation Sans","DejaVu Sans",sans-serif' font-size="12.1" font-weight="normal" text-anchor="middle" fill="#161616" >toxic effects</text>
<text x="600.4" y="975.9" font-family='"Liberation Sans","DejaVu Sans",sans-serif' font-size="12.1" font-weight="normal" text-anchor="middle" fill="#161616" >in Zebrafish</text>
<text x="685" y="948.4" font-family='"Liberation Sans","DejaVu Sans",sans-serif' font-size="12.1" font-weight="normal" text-anchor="middle" fill="#161616" >77 COVID</text>
<text x="685" y="962.15" font-family='"Liberation Sans","DejaVu Sans",sans-serif' font-size="12.1" font-weight="normal" text-anchor="middle" fill="#161616" >effective drug</text>
<g opacity="0.45" fill="#8a8a8a">
<ellipse cx="470" cy="948.5" rx="10" ry="8.6"/><path d="M463,954 L461,960 L468,956Z"/>
<ellipse cx="479.8" cy="955.5" rx="8.2" ry="7" stroke="#fff" stroke-width="1"/><path d="M484,960.5 L487,964.5 L480,962Z"/>
<circle cx="466.5" cy="946.5" r="1.2" fill="#fff"/><circle cx="473.5" cy="946.5" r="1.2" fill="#fff"/><circle cx="477" cy="954" r="1" fill="#fff"/><circle cx="482.6" cy="954" r="1" fill="#fff"/>
</g>
<text x="494" y="959.5" font-family='"Liberation Sans","Noto Sans CJK SC",sans-serif' font-size="19.5" fill="#9a9a9a" fill-opacity="0.5" textLength="233" lengthAdjust="spacing">公众号 · Hunter-Organs</text>
</svg>
</body></html>
